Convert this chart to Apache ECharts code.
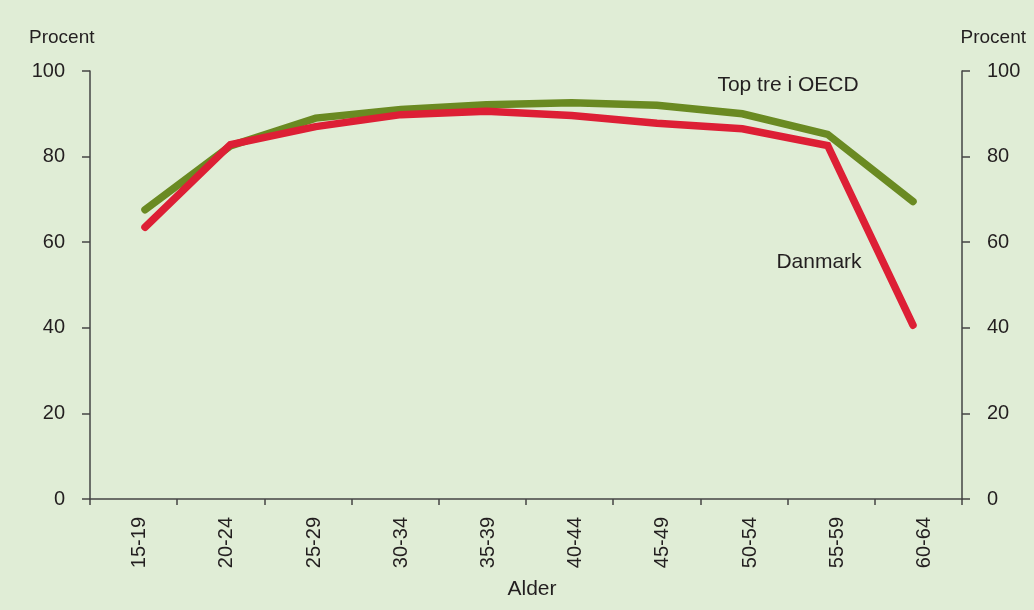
<!DOCTYPE html>
<html>
<head>
<meta charset="utf-8">
<script src="https://cdn.jsdelivr.net/npm/echarts@6/dist/echarts.min.js"></script>
<style>
  html, body { margin: 0; padding: 0; background: #e0edd6; }
  #chart { width: 1034px; height: 610px; }
</style>
</head>
<body>
<div id="chart"></div>
<script>
// Age groups on the x axis
const ageGroups = ['15-19', '20-24', '25-29', '30-34', '35-39', '40-44', '45-49', '50-54', '55-59', '60-64'];
// Employment rate by age, percent
const topTreOECD = [67.6, 82.5, 89.0, 91.0, 92.1, 92.6, 92.0, 90.0, 85.2, 69.5];
const danmark    = [63.5, 82.8, 87.0, 89.8, 90.6, 89.6, 87.8, 86.5, 82.6, 40.6];
// Value axis ticks
const yTicks = [0, 20, 40, 60, 80, 100];

const textColor = '#231f20';
const axisColor = '#444444';
const font = 'Liberation Sans, Arial, Helvetica, sans-serif';

const chart = echarts.init(document.getElementById('chart'));

const yAxisBase = {
  type: 'value',
  min: yTicks[0],
  max: yTicks[yTicks.length - 1],
  interval: yTicks[1] - yTicks[0],
  splitLine: { show: false },
  axisLine: { show: true, lineStyle: { color: axisColor, width: 1.5 } },
  axisTick: { show: true, inside: false, length: 8, lineStyle: { color: axisColor, width: 1.5 } },
  axisLabel: { color: textColor, fontSize: 20, fontFamily: font, margin: 25 }
};

chart.setOption({
  backgroundColor: '#e0edd6',
  animation: false,
  grid: [
    // frame with axes
    { left: 90, right: 72, top: 71, bottom: 111 },
    // plotting area for the lines
    { left: 145, right: 121, top: 71, bottom: 111 }
  ],
  xAxis: [
    {
      type: 'category',
      gridIndex: 0,
      data: ageGroups,
      boundaryGap: true,
      axisLine: { show: true, lineStyle: { color: axisColor, width: 1.5 } },
      axisTick: { show: true, length: 6, interval: 0, lineStyle: { color: axisColor, width: 1.5 } },
      axisLabel: {
        rotate: 90, interval: 0, color: textColor, fontSize: 20, fontFamily: font, margin: 18,
        verticalAlign: 'top', lineHeight: 12
      }
    },
    {
      type: 'category',
      gridIndex: 1,
      data: ageGroups,
      boundaryGap: false,
      show: false
    }
  ],
  yAxis: [
    Object.assign({}, yAxisBase, { gridIndex: 0, position: 'left' }),
    Object.assign({}, yAxisBase, { gridIndex: 0, position: 'right' }),
    { type: 'value', gridIndex: 1, min: yTicks[0], max: yTicks[yTicks.length - 1], show: false }
  ],
  series: [
    {
      name: 'Top tre i OECD',
      type: 'line',
      xAxisIndex: 1,
      yAxisIndex: 2,
      data: topTreOECD,
      showSymbol: false,
      lineStyle: { color: '#6a8a22', width: 7.5, cap: 'round', join: 'miter' }
    },
    {
      name: 'Danmark',
      type: 'line',
      xAxisIndex: 1,
      yAxisIndex: 2,
      data: danmark,
      showSymbol: false,
      lineStyle: { color: '#dd1f35', width: 7.5, cap: 'round', join: 'miter' }
    }
  ],
  graphic: [
    { type: 'text', left: 29, top: 28, style: { text: 'Procent', fill: textColor, font: '19px ' + font } },
    { type: 'text', right: 8, top: 28, style: { text: 'Procent', fill: textColor, font: '19px ' + font } },
    { type: 'text', x: 532, y: 589, style: { text: 'Alder', fill: textColor, font: '21px ' + font, align: 'center', verticalAlign: 'middle' } },
    { type: 'text', x: 788, y: 85, style: { text: 'Top tre i OECD', fill: textColor, font: '21px ' + font, align: 'center', verticalAlign: 'middle' } },
    { type: 'text', x: 819, y: 262, style: { text: 'Danmark', fill: textColor, font: '21px ' + font, align: 'center', verticalAlign: 'middle' } }
  ]
});
</script>
</body>
</html>
